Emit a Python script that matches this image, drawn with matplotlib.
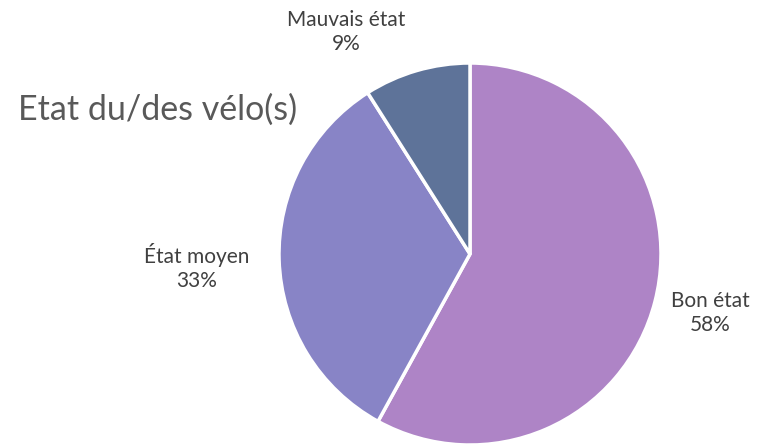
import matplotlib
matplotlib.use("Agg")
import matplotlib.pyplot as plt

categories = ["Bon état", "État moyen", "Mauvais état"]
values = [58, 33, 9]
colors = ["#AE84C6", "#8884C6", "#5E7399"]
title = "Etat du/des vélo(s)"

# label positions (pie data units, radius = 1)
label_pos = [(1.26, -0.31), (-1.43, -0.07), (-0.65, 1.16)]

plt.rcParams['font.family'] = ['Lato', 'DejaVu Sans']
fig = plt.figure(figsize=(7.64, 4.48), dpi=100)
W, H = 764, 448
cx, cy, r = 470, 254, 191
ax = fig.add_axes([(cx - r) / W, (H - cy - r) / H, 2 * r / W, 2 * r / H])
wedges, _ = ax.pie(values, colors=colors, startangle=90, counterclock=False,
                   radius=1, wedgeprops=dict(edgecolor="white", linewidth=2.5))
ax.set_xlim(-1, 1)
ax.set_ylim(-1, 1)
ax.set_aspect("equal")
ax.axis("off")
total = sum(values)
for cat, v, (x, y) in zip(categories, values, label_pos):
    ax.text(x, y, f"{cat}\n{round(100 * v / total)}%", ha="center", va="center",
            fontsize=15, color="#404040", linespacing=1.25, clip_on=False)

fig.text(18 / W, 1 - 110 / H, title, ha="left", va="center", fontsize=24.5, color="#595959")
fig.savefig("out.png", dpi=100)
